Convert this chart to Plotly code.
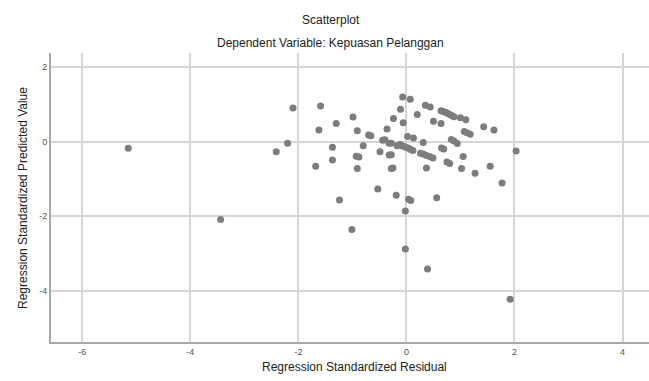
import plotly.graph_objects as go

# Regression Standardized Residual (x) and Regression Standardized Predicted Value (y)
residual = [
    -5.15, -3.44, -2.41, -2.20, -2.10, -1.59, -1.62, -1.68, -1.37, -1.37,
    -1.30, -1.24, -0.99, -0.91, -0.93, -0.88, -0.91, -0.80, -0.70, -0.66,
    -1.01, -0.53, -0.49, -0.44, -0.40, -0.32, -0.28, -0.32, -0.28, -0.28,
    -0.25, -0.36, -0.24, -0.19, -0.11, -0.07, 0.07, -0.06,
    -0.17, -0.12, -0.08, -0.04, 0.00, 0.04, 0.08, 0.12,
    0.02, 0.13, -0.02, 0.04, 0.08, -0.02, 0.39, 0.56, 0.20, 0.31,
    0.26, 0.32, 0.37, 0.43, 0.49, 0.37, 0.35, 0.44, 0.50, 0.64,
    0.64, 0.68, 0.72, 0.76, 0.80, 0.84, 0.88, 1.00, 1.10,
    0.65, 0.69, 0.83, 0.88, 0.94, 0.75, 0.80, 1.02, 1.05,
    1.07, 1.12, 1.18, 1.27, 1.43, 1.62, 1.55, 1.77, 2.03, 1.92,
]
predicted = [
    -0.18, -2.09, -0.27, -0.04, 0.90, 0.96, 0.31, -0.66, -0.15, -0.49,
    0.49, -1.57, 0.66, 0.29, -0.39, -0.41, -0.72, -0.11, 0.18, 0.16,
    -2.36, -1.27, -0.27, 0.04, 0.05, -0.04, -0.04, -0.36, -0.35, -0.72,
    -0.71, 0.34, 0.62, -1.44, 0.87, 1.20, 1.14, 0.51,
    -0.11, -0.08, -0.11, -0.13, -0.16, -0.18, -0.21, -0.24,
    0.14, 0.10, -1.86, -1.55, -1.58, -2.88, -3.42, -1.51, 0.73, -0.02,
    -0.31, -0.34, -0.37, -0.40, -0.44, -0.71, 0.98, 0.93, 0.55, 0.49,
    0.83, 0.81, 0.79, 0.76, 0.73, 0.70, 0.67, 0.64, 0.59,
    -0.17, -0.20, 0.06, 0.02, -0.05, -0.55, -0.59, -0.72, -0.40,
    0.27, 0.24, 0.20, -0.85, 0.40, 0.31, -0.66, -1.11, -0.25, -4.23,
]

x_ticks = [-6, -4, -2, 0, 2, 4]
y_ticks = [2, 0, -2, -4]

fig = go.Figure()
fig.add_trace(go.Scatter(
    x=residual, y=predicted, mode="markers",
    marker=dict(size=7, color="#7d7d7d", line=dict(width=0)),
    hoverinfo="x+y", showlegend=False,
))

font_family = "Liberation Sans, Arial, sans-serif"

fig.update_layout(
    width=649, height=381,
    margin=dict(l=51, r=0, t=53, b=39),
    paper_bgcolor="white", plot_bgcolor="white",
    font=dict(family=font_family, size=12, color="#222222"),
    xaxis=dict(
        range=[-6.58, 4.49], tickvals=x_ticks, ticktext=[str(v) for v in x_ticks],
        showgrid=True, gridcolor="#d6d6d6", gridwidth=2,
        zeroline=False, showline=True, linecolor="#a8a8a8", linewidth=2,
        ticks="", tickfont=dict(size=9, color="#555555"),
    ),
    yaxis=dict(
        range=[-5.38, 2.38], tickvals=y_ticks, ticktext=[str(v) for v in y_ticks],
        showgrid=True, gridcolor="#d6d6d6", gridwidth=2,
        zeroline=False, showline=True, linecolor="#a8a8a8", linewidth=2,
        ticks="", tickfont=dict(size=9, color="#555555"),
    ),
    annotations=[
        dict(text="Scatterplot", x=0.468, y=1.114, xref="paper", yref="paper",
             showarrow=False, xanchor="center", yanchor="middle",
             font=dict(size=12, color="#222222")),
        dict(text="Dependent Variable: Kepuasan Pelanggan", x=0.468, y=1.0346,
             xref="paper", yref="paper", showarrow=False, xanchor="center",
             yanchor="middle", font=dict(size=12, color="#222222")),
        dict(text="Regression Standardized Residual", x=0.507, y=-0.0865,
             xref="paper", yref="paper", showarrow=False, xanchor="center",
             yanchor="middle", font=dict(size=12, color="#222222")),
        dict(text="Regression Standardized Predicted Value", x=-0.047, y=0.498,
             xref="paper", yref="paper", showarrow=False, xanchor="center",
             yanchor="middle", textangle=-90, font=dict(size=12, color="#222222")),
    ],
)

fig.write_html("out.html")
